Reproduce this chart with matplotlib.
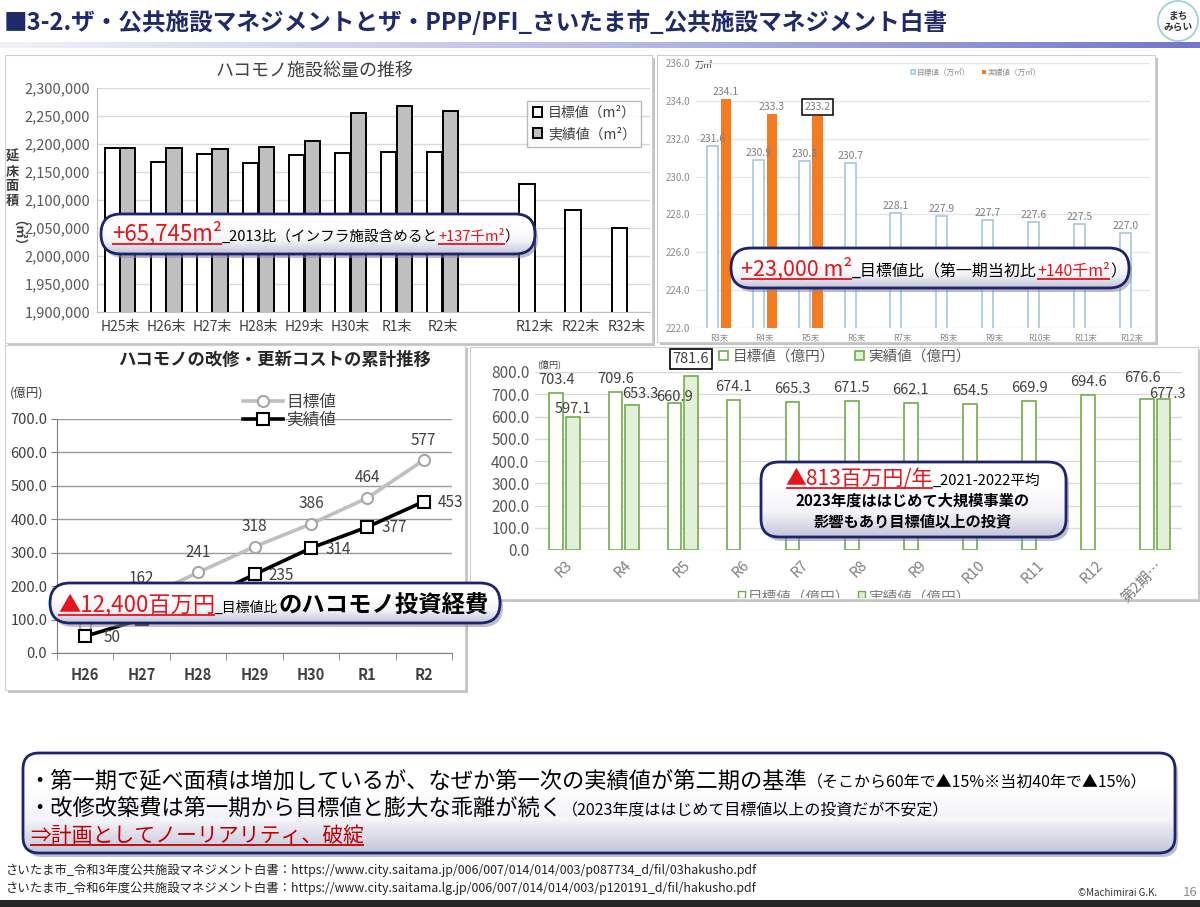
import numpy as np
import matplotlib
matplotlib.use("Agg")
import matplotlib.pyplot as plt
from matplotlib.patches import FancyBboxPatch, Rectangle, Circle
from matplotlib.colors import LinearSegmentedColormap
from matplotlib.ticker import FuncFormatter, MultipleLocator
from matplotlib.transforms import Bbox

plt.rcParams["font.family"] = ["Noto Sans CJK JP", "DejaVu Sans"]

W, H = 1200, 907

# ハコモノ施設総量の推移 (m2)
area_years = ["H25末", "H26末", "H27末", "H28末", "H29末", "H30末", "R1末", "R2末", "R12末", "R22末", "R32末"]
area_target = [2192500, 2167000, 2183000, 2165700, 2180600, 2184200, 2185400, 2185400, 2128700, 2082700, 2049300]
area_actual = [2192500, 2192500, 2190700, 2194900, 2204500, 2255200, 2268400, 2258200]

# 第二期 目標値/実績値 (万m2)
plan_years = ["R3末", "R4末", "R5末", "R6末", "R7末", "R8末", "R9末", "R10末", "R11末", "R12末"]
plan_target = [231.6, 230.9, 230.8, 230.7, 228.1, 227.9, 227.7, 227.6, 227.5, 227.0]
plan_actual = [234.1, 233.3, 233.2]

# 改修・更新コストの累計 (億円)
cost_years = ["H26", "H27", "H28", "H29", "H30", "R1", "R2"]
cost_target = [80, 162, 241, 318, 386, 464, 577]
cost_actual = [50, 101, 155, 235, 314, 377, 453]

# 第二期 投資額 (億円)
inv_years = ["R3", "R4", "R5", "R6", "R7", "R8", "R9", "R10", "R11", "R12", "第2期…"]
inv_target = [703.4, 709.6, 660.9, 674.1, 665.3, 671.5, 662.1, 654.5, 669.9, 694.6, 676.6]
inv_actual = [597.1, 653.3, 781.6, np.nan, np.nan, np.nan, np.nan, np.nan, np.nan, np.nan, 677.3]

RED = "#e8141b"
NAVY = "#1c2470"

fig = plt.figure(figsize=(W / 100, H / 100), dpi=100)
fig.patch.set_facecolor("white")
renderer = fig.canvas.get_renderer()


def px_axes(x0, y0, x1, y1):
    ax = fig.add_axes([x0 / W, 1 - y1 / H, (x1 - x0) / W, (y1 - y0) / H])
    ax.set_facecolor("none")
    return ax


def overlay():
    ax = fig.add_axes([0, 0, 1, 1])
    ax.set_xlim(0, W)
    ax.set_ylim(H, 0)
    ax.axis("off")
    return ax


def panel(ax, x0, y0, x1, y1):
    ax.add_patch(Rectangle((x0 + 3, y0 + 3), x1 - x0, y1 - y0, fc="#c4c4c4", ec="none", zorder=1))
    ax.add_patch(Rectangle((x0, y0), x1 - x0, y1 - y0, fc="white", ec="#cfcfcf", lw=0.8, zorder=2))


def text_width(ax, s, size, weight="normal"):
    t = ax.text(0, 0, s, fontsize=size, fontweight=weight)
    w = t.get_window_extent(renderer).width
    t.remove()
    return w


def rich(ax, x, y, parts, z=20):
    for s, size, color, weight, ul in parts:
        t = ax.text(x, y, s, fontsize=size, color=color, fontweight=weight,
                    va="baseline", ha="left", zorder=z)
        w = t.get_window_extent(renderer).width
        if ul:
            ax.plot([x, x + w], [y + 3, y + 3], color=color, lw=1.3, zorder=z,
                    solid_capstyle="butt")
        x += w
    return x


glow = LinearSegmentedColormap.from_list("glow", ["#ffffff", "#ffffff", "#f4f4f9", "#c5c5da"])


def callout(ax, x0, y0, x1, y1, r=20, lw=2):
    w, h = x1 - x0, y1 - y0
    style = f"round,pad=0,rounding_size={r}"
    ax.add_patch(FancyBboxPatch((x0 + 3, y0 + 4), w, h, boxstyle=style, fc="#8a8aa4",
                                ec="none", alpha=0.55, zorder=10))
    face = FancyBboxPatch((x0, y0), w, h, boxstyle=style, fc="white", ec="none", zorder=11)
    ax.add_patch(face)
    im = ax.imshow(np.linspace(0, 1, 64)[:, None], cmap=glow, extent=(x0, x1, y1, y0),
                   aspect="auto", zorder=11.5, interpolation="bilinear")
    im.set_clip_path(face)
    ax.add_patch(FancyBboxPatch((x0, y0), w, h, boxstyle=style, fc="none", ec=NAVY,
                                lw=lw, zorder=12))


# ---------------- background: title bar, panels ----------------
bg = overlay()
bg.text(4, 22, "■3-2.ザ・公共施設マネジメントとザ・PPP/PFI_さいたま市_公共施設マネジメント白書",
        fontsize=17, fontweight="bold", color="#1f2a6b", va="center", ha="left")
bar_cmap = LinearSegmentedColormap.from_list("bar", ["#f0f1f8", "#b9bde8", "#7377cc"])
bg.imshow(np.linspace(0, 1, 256)[None, :], cmap=bar_cmap, extent=(0, W, 48, 42),
          aspect="auto", zorder=1)
bg.add_patch(Circle((1178, 21), 20, fc="white", ec="#9fd0d8", lw=1.3, zorder=3))
bg.text(1178, 21, "まち\nみらい", fontsize=7, fontweight="bold", color="#333333",
        ha="center", va="center", linespacing=1.1, zorder=4)

panel(bg, 5, 55, 652, 343)
panel(bg, 657, 55, 1155, 342)
panel(bg, 5, 345, 465, 690)
panel(bg, 470, 347, 1198, 599)

# ---------------- chart 1: ハコモノ施設総量の推移 ----------------
bg.text(315, 71, "ハコモノ施設総量の推移", fontsize=13, color="#404040", ha="center", va="center", zorder=5)
bg.text(12, 150, "延\n床\n面\n積", fontsize=9.5, fontweight="bold", color="#404040",
        ha="center", va="top", linespacing=1.05, zorder=5)
bg.text(12, 240, "（㎡）", fontsize=9.5, fontweight="bold", color="#404040",
        ha="center", va="center", rotation=-90, zorder=5)

ax1 = px_axes(97, 88, 650, 312)
pos1 = np.array([0, 1, 2, 3, 4, 5, 6, 7, 9, 10, 11])
ax1.bar(pos1 - 0.17, area_target, width=0.33, color="white", edgecolor="black", lw=1.4, zorder=3,
        label="目標値（m²）")
ax1.bar(np.arange(len(area_actual)) + 0.17, area_actual, width=0.33, color="#bfbfbf",
        edgecolor="black", lw=1.4, zorder=3, label="実績値（m²）")
ax1.set_ylim(1900000, 2300000)
ax1.set_xlim(-0.5, 11.5)
ax1.yaxis.set_major_locator(MultipleLocator(50000))
ax1.yaxis.set_major_formatter(FuncFormatter(lambda v, p: f"{v:,.0f}"))
ax1.set_xticks(pos1, area_years)
ax1.grid(axis="y", color="#d9d9d9", lw=1)
ax1.set_axisbelow(True)
ax1.tick_params(axis="y", length=0, labelsize=10.5, colors="#595959", pad=5)
ax1.tick_params(axis="x", length=0, labelsize=10, colors="#404040", pad=6)
for s in ["top", "right"]:
    ax1.spines[s].set_visible(False)
for s in ["left", "bottom"]:
    ax1.spines[s].set_color("#bfbfbf")
leg1 = ax1.legend(loc="upper left", bbox_to_anchor=(0.765, 0.975), fontsize=10, frameon=True,
                  fancybox=False, edgecolor="#a6a6a6", handlelength=0.7, handleheight=0.7,
                  handletextpad=0.4, borderpad=0.4, labelspacing=0.5)
for t in leg1.get_texts():
    t.set_color("#404040")

# ---------------- chart 2: 第二期 延床面積 ----------------
ax2 = px_axes(696, 63, 1150, 328)
x2 = np.arange(len(plan_target))
ax2.bar(x2 - 0.14, plan_target, width=0.24, color="white", edgecolor="#9cc3da", lw=1.1, zorder=3,
        label="目標値（万㎡）")
ax2.bar(np.arange(len(plan_actual)) + 0.15, plan_actual, width=0.22, color="#f47b20", zorder=3,
        label="実績値（万㎡）")
ax2.set_ylim(222, 236)
ax2.set_xlim(-0.5, 9.4)
ax2.yaxis.set_major_locator(MultipleLocator(2))
ax2.yaxis.set_major_formatter(FuncFormatter(lambda v, p: f"{v:.1f}"))
ax2.set_xticks(x2, plan_years)
ax2.grid(axis="y", color="#e6e6e6", lw=1)
ax2.set_axisbelow(True)
ax2.tick_params(axis="y", length=0, labelsize=7, colors="#8c8c8c", pad=4)
ax2.tick_params(axis="x", length=0, labelsize=6, colors="#8c8c8c", pad=4)
for s in ax2.spines.values():
    s.set_visible(False)
for i, v in enumerate(plan_target):
    ax2.annotate(f"{v:.1f}", (i - 0.14, v), xytext=(0, 2), textcoords="offset pixels",
                 ha="center", va="bottom", fontsize=7.5, color="#7f7f7f", zorder=4)
for i, v in enumerate(plan_actual):
    box = dict(boxstyle="square,pad=0.25", fc="white", ec="black", lw=1.1) if i == 2 else None
    ax2.annotate(f"{v:.1f}", (i + 0.15, v), xytext=(0, 4 if i == 2 else 2),
                 textcoords="offset pixels", ha="center", va="bottom", fontsize=7.5,
                 color="#7f7f7f", bbox=box, zorder=4)
leg2 = ax2.legend(loc="center", bbox_to_anchor=(976 / W, 1 - 73 / H), bbox_transform=fig.transFigure,
                  ncol=2, fontsize=5.5, frameon=False, handlelength=0.5, handleheight=0.5,
                  handletextpad=0.3, columnspacing=1.5)
for t in leg2.get_texts():
    t.set_color("#8c8c8c")
bg.text(695, 66, "万㎡", fontsize=6.5, color="#404040", ha="left", va="center", zorder=5)

# ---------------- chart 3: 改修・更新コストの累計推移 ----------------
bg.text(275, 360, "ハコモノの改修・更新コストの累計推移", fontsize=12.5, fontweight="bold",
        color="#262626", ha="center", va="center", zorder=5)
bg.text(27, 393, "(億円)", fontsize=9, color="#404040", ha="center", va="center", zorder=5)

ax3 = px_axes(57, 419, 452, 653)
x3 = np.arange(len(cost_years))
ax3.plot(x3, cost_target, color="#bfbfbf", lw=2.6, marker="o", ms=8, mfc="white", mec="#a6a6a6",
         mew=1.5, zorder=3, label="目標値")
ax3.plot(x3, cost_actual, color="black", lw=2.6, marker="s", ms=8, mfc="white", mec="black",
         mew=1.5, zorder=4, label="実績値")
ax3.set_ylim(0, 700)
ax3.set_xlim(-0.5, 6.5)
ax3.yaxis.set_major_locator(MultipleLocator(100))
ax3.yaxis.set_major_formatter(FuncFormatter(lambda v, p: f"{v:.1f}"))
ax3.set_xticks(x3, cost_years)
ax3.set_xticks(np.arange(-0.5, 7, 1), minor=True)
ax3.grid(axis="y", color="#9a9a9a", lw=1)
ax3.set_axisbelow(True)
ax3.tick_params(axis="y", length=4, color="#808080", labelsize=10.5, labelcolor="#404040", pad=3)
ax3.tick_params(axis="x", which="major", length=0, labelsize=10.5, labelcolor="#404040", pad=10)
ax3.tick_params(axis="x", which="minor", length=5, color="#808080")
for lab in ax3.get_xticklabels():
    lab.set_fontweight("bold")
for s in ["top", "right"]:
    ax3.spines[s].set_visible(False)
for s in ["left", "bottom"]:
    ax3.spines[s].set_color("#808080")
# labels hidden behind the callout box in the original are left out
for i, v in enumerate(cost_target):
    if i == 0:
        continue
    ax3.annotate(f"{v}", (i, v), xytext=(0, 20), textcoords="offset pixels", ha="center",
                 va="center", fontsize=11, color="#404040", zorder=5)
for i, v in enumerate(cost_actual):
    if i in (1, 2):
        continue
    ax3.annotate(f"{v}", (i, v), xytext=(27, -1), textcoords="offset pixels", ha="center",
                 va="center", fontsize=11, color="#404040", zorder=5)
leg3 = ax3.legend(loc="upper left", bbox_to_anchor=(228 / W, 1 - 379 / H), bbox_transform=fig.transFigure,
                  fontsize=12, frameon=False, handlelength=2.4, handletextpad=0.2, labelspacing=0.05)
for t in leg3.get_texts():
    t.set_color("#404040")

# ---------------- chart 4: 第二期 投資額 ----------------
ax4 = px_axes(535, 372, 1182, 550)
x4 = np.arange(len(inv_years))
act = np.array(inv_actual)
has = ~np.isnan(act)
ax4.bar(x4 - 0.14, inv_target, width=0.23, color="white", edgecolor="#70ad47", lw=1.2, zorder=3,
        label="目標値（億円）")
ax4.bar(x4[has] + 0.14, act[has], width=0.23, color="#e2f0d9", edgecolor="#70ad47", lw=1.2, zorder=3,
        label="実績値（億円）")
ax4.set_ylim(0, 800)
ax4.set_xlim(-0.5, 10.45)
ax4.yaxis.set_major_locator(MultipleLocator(100))
ax4.yaxis.set_major_formatter(FuncFormatter(lambda v, p: f"{v:.1f}"))
ax4.set_xticks(x4, inv_years, rotation=45, ha="right", rotation_mode="anchor")
ax4.grid(axis="y", color="#d9d9d9", lw=1)
ax4.set_axisbelow(True)
ax4.tick_params(axis="y", length=0, labelsize=11, colors="#595959", pad=4)
ax4.tick_params(axis="x", length=0, labelsize=10.5, colors="#7f7f7f", pad=6)
for s in ax4.spines.values():
    s.set_visible(False)
nudge4 = {("a", 0): (0, -5), ("a", 1): (8, -2), ("t", 2): (0, -7),
          ("t", 10): (-5, 8), ("a", 10): (4, -8)}
for i, v in enumerate(inv_target):
    dx, dy = nudge4.get(("t", i), (0, 0))
    ax4.annotate(f"{v:.1f}", (i - 0.14, v), xytext=(dx, 13 + dy), textcoords="offset pixels",
                 ha="center", va="center", fontsize=10.5, color="#404040", zorder=5)
for i in x4[has]:
    dx, dy = nudge4.get(("a", i), (0, 0))
    box = dict(boxstyle="square,pad=0.2", fc="white", ec="black", lw=1.2) if i == 2 else None
    ax4.annotate(f"{act[i]:.1f}", (i + 0.14, act[i]), xytext=(dx, 13 + dy + (4 if i == 2 else 0)),
                 textcoords="offset pixels", ha="center", va="center", fontsize=10.5,
                 color="#404040", bbox=box, zorder=5)
leg4 = ax4.legend(loc="center", bbox_to_anchor=(845 / W, 1 - 357 / H), bbox_transform=fig.transFigure,
                  ncol=2, fontsize=10.5, frameon=False, handlelength=0.6, handleheight=0.6,
                  handletextpad=0.3, columnspacing=1.4)
for t in leg4.get_texts():
    t.set_color("#595959")
bg.text(537, 364, "(億円)", fontsize=6.5, color="#404040", ha="left", va="center", zorder=5)

# legend repeated at the bottom edge, cut off by the panel
clip = Bbox.from_extents(600, H - 597.5, 1100, H - 575)
for lbl, fc, xx in [("目標値（億円）", "white", 738), ("実績値（億円）", "#e2f0d9", 858)]:
    sq = Rectangle((xx, 591), 7, 7, fc=fc, ec="#70ad47", lw=1, zorder=5)
    bg.add_patch(sq)
    sq.set_clip_box(clip)
    t = bg.text(xx + 10, 598, lbl, fontsize=10.5, color="#7f7f7f", ha="left", va="center", zorder=5)
    t.set_clip_box(clip)
    t.set_clip_on(True)

# ---------------- footer ----------------
bg.text(5, 870, "さいたま市_令和3年度公共施設マネジメント白書：https://www.city.saitama.jp/006/007/014/014/003/p087734_d/fil/03hakusho.pdf",
        fontsize=8.9, color="#222222", ha="left", va="center", zorder=5)
bg.text(5, 888, "さいたま市_令和6年度公共施設マネジメント白書：https://www.city.saitama.lg.jp/006/007/014/014/003/p120191_d/fil/hakusho.pdf",
        fontsize=8.9, color="#222222", ha="left", va="center", zorder=5)
bg.text(1118, 893, "©Machimirai G.K.", fontsize=7, color="#333333", ha="center", va="center", zorder=5)
bg.text(1190, 892, "16", fontsize=9.5, color="#8c8c8c", ha="center", va="center", zorder=5)
bg.add_patch(Rectangle((0, 900), W, 7, fc="#242424", ec="none", zorder=5))

# ---------------- foreground callouts ----------------
fg = overlay()

callout(fg, 101, 214, 535, 254)
rich(fg, 112, 241, [("+65,745m²", 16, RED, "normal", True),
                    ("_2013比（インフラ施設含めると", 10.5, "black", "normal", False),
                    ("+137千m²", 10.5, RED, "normal", True),
                    ("）", 10.5, "black", "normal", False)])

callout(fg, 731, 248, 1129, 288)
rich(fg, 741, 276, [("+23,000 m²", 15.5, RED, "normal", True),
                    ("_目標値比（第一期当初比", 11.5, "black", "normal", False),
                    ("+140千m²", 11.5, RED, "normal", True),
                    ("）", 11.5, "black", "normal", False)])

callout(fg, 50, 583, 500, 623)
rich(fg, 58, 612, [("▲12,400百万円", 16, RED, "normal", True),
                   ("_目標値比", 10, "black", "normal", False),
                   ("のハコモノ投資経費", 16.8, "black", "bold", False)])

callout(fg, 761, 462, 1066, 537, r=18)
line1 = [("▲813百万円/年", 15, RED, "normal", True), ("_2021-2022平均", 10.5, "black", "normal", False)]
tot = sum(text_width(fg, s, sz, wt) for s, sz, c, wt, u in line1)
rich(fg, 913 - tot / 2, 485, line1)
fg.text(913, 501, "2023年度ははじめて大規模事業の", fontsize=11, fontweight="bold", ha="center",
        va="center", zorder=20)
fg.text(913, 521, "影響もあり目標値以上の投資", fontsize=11, fontweight="bold", ha="center",
        va="center", zorder=20)

callout(fg, 23, 753, 1175, 853, r=16)
rich(fg, 28, 787, [("・第一期で延べ面積は増加しているが、なぜか第一次の実績値が第二期の基準", 16, "black", "normal", False),
                   ("（そこから60年で▲15%※当初40年で▲15%）", 11.5, "black", "normal", False)])
rich(fg, 28, 815, [("・改修改築費は第一期から目標値と膨大な乖離が続く", 16, "black", "normal", False),
                   ("（2023年度ははじめて目標値以上の投資だが不安定）", 11.5, "black", "normal", False)])
rich(fg, 30, 842, [("⇒計画としてノーリアリティ、破綻", 15, "#c00000", "normal", True)])

for a in (bg, fg):
    a.set_xlim(0, W)
    a.set_ylim(H, 0)

fig.savefig("out.png", dpi=100, facecolor="white")
